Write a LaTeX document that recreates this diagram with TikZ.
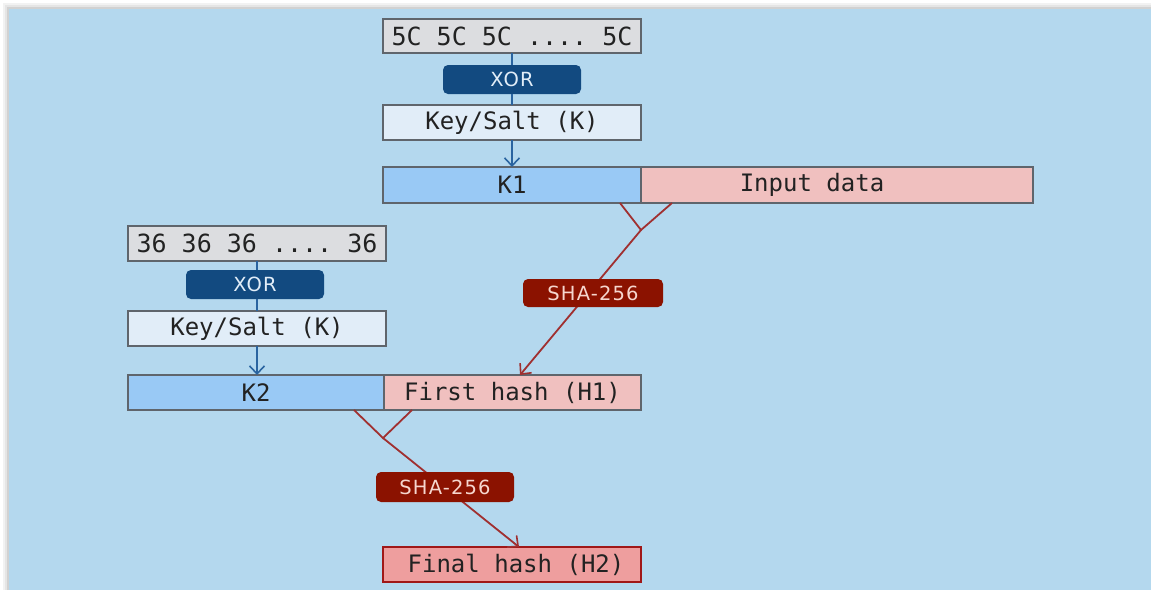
\documentclass[tikz,border=0pt]{standalone}
\usepackage{fontspec}
\setmonofont{DejaVu Sans Mono}
\newfontfamily\labfont[LetterSpace=6]{DejaVu Sans}
\usetikzlibrary{arrows.meta,calc}
\definecolor{bgblue}{HTML}{B4D8EE}
\definecolor{grayfill}{HTML}{DCDDE0}
\definecolor{boxborder}{HTML}{5F656C}
\definecolor{xorblue}{HTML}{124A80}
\definecolor{keyfill}{HTML}{E1EDF8}
\definecolor{kfill}{HTML}{99C9F5}
\definecolor{pinkfill}{HTML}{F0C0BF}
\definecolor{shared}{HTML}{8B1200}
\definecolor{shatext}{HTML}{F6D6CE}
\definecolor{redline}{HTML}{A03030}
\definecolor{finalfill}{HTML}{EE9E9E}
\definecolor{finalborder}{HTML}{A01818}
\definecolor{blueline}{HTML}{2A64A0}
\definecolor{textdark}{HTML}{222222}
\begin{document}
\begin{tikzpicture}[x=1pt,y=-1pt,
  databox/.style={draw=boxborder,line width=1.8pt,inner sep=0pt,outer sep=0pt,
    font=\ttfamily\fontsize{24}{28}\selectfont,text=textdark,anchor=north west},
  padbox/.style={databox,fill=grayfill,font=\ttfamily\fontsize{25}{28}\selectfont},
  xorbox/.style={fill=xorblue,rounded corners=5pt,inner sep=0pt,outer sep=0pt,
    font=\labfont\fontsize{19.5}{22}\selectfont,text=keyfill,anchor=north west},
  shabox/.style={fill=shared,rounded corners=5pt,inner sep=0pt,outer sep=0pt,
    font=\labfont\fontsize{19.5}{22}\selectfont,text=shatext,anchor=north west},
  bluecon/.style={draw=blueline,line width=1.8pt},
  redcon/.style={draw=redline,line width=1.8pt},
  tip/.style={-{Straight Barb[length=8pt,width=15pt,line width=1.6pt]}}
]
\useasboundingbox (0,0) rectangle (1151,590);
% background with shadow
\fill[black!5] (3,3) rectangle (1151,590);
\fill[black!10] (5,5) rectangle (1151,590);
\fill[black!18] (7,7) rectangle (1151,590);
\fill[bgblue] (9,9) rectangle (1151,590);

% ---- upper chain
\node[padbox,minimum width=258pt,minimum height=34pt] (c5) at (383,19) {5C 5C 5C .... 5C};
\node[xorbox,minimum width=138pt,minimum height=29pt] (xor1) at (443,65) {XOR};
\node[databox,fill=keyfill,minimum width=258pt,minimum height=35pt] (key1) at (383,105) {Key/Salt (K)};
\node[databox,fill=kfill,minimum width=258pt,minimum height=36pt] (k1) at (383,167) {K1};
\node[databox,fill=pinkfill,minimum width=392pt,minimum height=36pt] (inp) at (641,167) {};
\node[font=\ttfamily\fontsize{24}{28}\selectfont,text=textdark,inner sep=0pt] (inptxt) at (812,185) {Input data};
\draw[bluecon] (c5.south) -- (c5.south |- xor1.north);
\draw[bluecon] (c5.south |- xor1.south) -- (c5.south |- key1.north);
\draw[bluecon,tip] (key1.south) -- (key1.south |- k1.north);

% ---- lower chain
\node[padbox,minimum width=258pt,minimum height=35pt] (c36) at (128,226) {36 36 36 .... 36};
\node[xorbox,minimum width=138pt,minimum height=29pt] (xor2) at (186,270) {XOR};
\node[databox,fill=keyfill,minimum width=258pt,minimum height=35pt] (key2) at (128,311) {Key/Salt (K)};
\node[databox,fill=kfill,minimum width=256pt,minimum height=35pt] (k2) at (128,375) {K2};
\node[databox,fill=pinkfill,minimum width=257pt,minimum height=35pt] (h1) at (384,375) {First hash (H1)};
\draw[bluecon] (c36.south) -- (c36.south |- xor2.north);
\draw[bluecon] (c36.south |- xor2.south) -- (c36.south |- key2.north);
\draw[bluecon,tip] (key2.south) -- (key2.south |- k2.north);

% first SHA
\coordinate (j1) at (641,230);
\coordinate (a1) at ($(k1.south east)+(-21,0)$);
\coordinate (b1) at ($(inp.south west)+(31,0)$);
\coordinate (t1) at ($(h1.north west)+(136,0)$);
\draw[redcon] (a1) -- (j1) -- (b1);
\draw[redcon,tip] (j1) -- (t1);
\node[shabox,minimum width=140pt,minimum height=28pt] (sha1) at (523,279) {SHA-256};

% second SHA + final
\node[databox,draw=finalborder,fill=finalfill,minimum width=258pt,minimum height=35pt] (h2) at (383,547) {\hspace{8pt}Final hash (H2)};
\coordinate (j2) at (383,438);
\coordinate (a2) at ($(k2.south east)+(-30,0)$);
\coordinate (b2) at ($(h1.south west)+(28,0)$);
\coordinate (t2) at ($(h2.north west)+(136,0)$);
\draw[redcon] (a2) -- (j2) -- (b2);
\draw[redcon,tip] (j2) -- (t2);
\node[shabox,minimum width=138pt,minimum height=30pt] (sha2) at (376,472) {SHA-256};
\end{tikzpicture}
\end{document}
